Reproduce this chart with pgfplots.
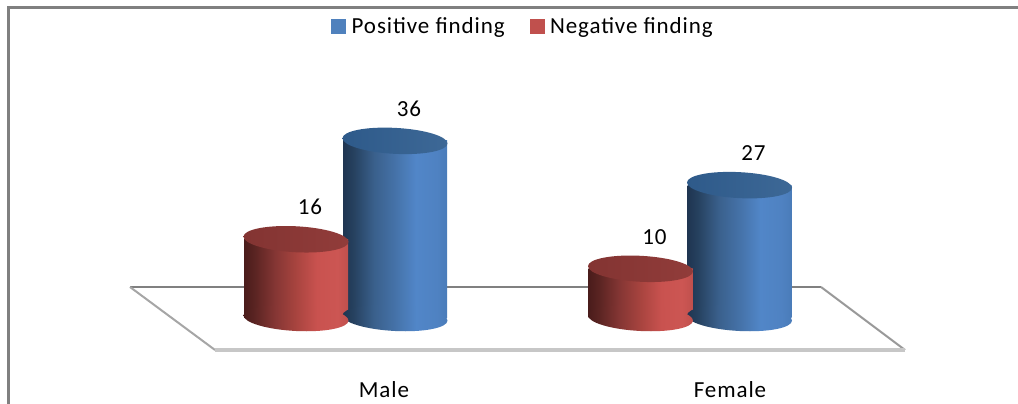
\documentclass[border=0pt]{standalone}
\usepackage{fontspec}
\setmainfont{Carlito}[LetterSpace=4]
\usepackage{pgfplots}
\pgfplotsset{compat=1.18}

\definecolor{bluelegend}{HTML}{4F81BD}
\definecolor{redlegend}{HTML}{C0504D}
\definecolor{ba}{HTML}{1F3551}\definecolor{bb}{HTML}{26415F}\definecolor{bc}{HTML}{3A608C}
\definecolor{bd}{HTML}{4572A8}\definecolor{be}{HTML}{5186C8}\definecolor{bf}{HTML}{4F82C2}\definecolor{bg}{HTML}{4A7CB9}
\definecolor{ra}{HTML}{4A1C1B}\definecolor{rb}{HTML}{5A2422}\definecolor{rc}{HTML}{853634}
\definecolor{rd}{HTML}{A8443F}\definecolor{re}{HTML}{C9524F}\definecolor{rf}{HTML}{CC5653}\definecolor{rg}{HTML}{C0504D}
\definecolor{btopa}{HTML}{2E5A8A}\definecolor{btopb}{HTML}{3D6896}
\definecolor{rtopa}{HTML}{833432}\definecolor{rtopb}{HTML}{913C3A}

% Side shadings of the two cylinder families
\pgfdeclarehorizontalshading{blueside}{100bp}{color(0bp)=(ba); color(25bp)=(ba); color(30bp)=(bb); color(40bp)=(bc); color(50bp)=(bd); color(60bp)=(be); color(70bp)=(bf); color(75bp)=(bg); color(100bp)=(bg)}
\pgfdeclarehorizontalshading{redside}{100bp}{color(0bp)=(ra); color(25bp)=(ra); color(30bp)=(rb); color(40bp)=(rc); color(50bp)=(rd); color(60bp)=(re); color(70bp)=(rf); color(75bp)=(rg); color(100bp)=(rg)}
\pgfdeclarehorizontalshading{bluecap}{100bp}{color(0bp)=(btopa); color(25bp)=(btopa); color(75bp)=(btopb); color(100bp)=(btopb)}
\pgfdeclarehorizontalshading{redcap}{100bp}{color(0bp)=(rtopa); color(25bp)=(rtopa); color(75bp)=(rtopb); color(100bp)=(rtopb)}

% Tilted elliptical ends of the cylinders
\newcommand{\cylend}{\pgfpathellipse{\pgfpointorigin}{\pgfqpoint{52.5pt}{-2.6pt}}{\pgfqpoint{0pt}{13pt}}}
\pgfdeclareplotmark{bluebase}{\cylend\pgfshadepath{blueside}{0}\pgfusepath{discard}}
\pgfdeclareplotmark{redbase}{\cylend\pgfshadepath{redside}{0}\pgfusepath{discard}}
\pgfdeclareplotmark{bluetop}{\cylend\pgfshadepath{bluecap}{0}\pgfusepath{discard}}
\pgfdeclareplotmark{redtop}{\cylend\pgfshadepath{redcap}{0}\pgfusepath{discard}}

\pgfplotsset{
  body/.style={ybar, bar width=104pt, bar shift=0pt, draw=none, shade, forget plot},
  cap/.style={only marks, forget plot, point meta=y,
    nodes near coords,
    nodes near coords style={anchor=center, xshift=14pt, yshift=32pt, text=black,
      /pgf/number format/assume math mode=true, font=\fontsize{23}{27}\selectfont}},
  swatch/.style={legend image code/.code={
    \fill[#1] (0pt,-7pt) rectangle (14pt,7pt);
    \path (18pt,0pt);}},
}

\begin{document}
\begin{tikzpicture}
\useasboundingbox (0,0) rectangle (1018pt,404pt);
\begin{axis}[
  at={(0,0)}, anchor=south west, scale only axis,
  width=1018pt, height=404pt,
  xmin=0, xmax=1018, ymin=-17.48, ymax=64.63,
  clip=false,
  axis line style={draw=none},
  ytick=\empty,
  xtick={384,730}, xticklabels={Male,Female},
  major tick length=0pt,
  xticklabel style={anchor=center, yshift=14pt, font=\fontsize{23}{27}\selectfont},
  legend style={at={(523pt,378pt)}, anchor=center, draw=none, fill=none,
    legend columns=2, font=\fontsize{23}{27}\selectfont,
    /tikz/every even column/.style={column sep=23pt},
    inner sep=0pt},
  legend cell align=left,
]
% Chart frame, open at the right and bottom
\addplot[forget plot, color=black!50, line width=3pt, line cap=rect] coordinates {(8.5,-17.48) (8.5,63.11) (1018,63.11)};

% Floor plane
\addplot[forget plot, fill=white, draw=none] coordinates {(130,6.30) (821,6.30) (905,-6.50) (215,-6.50)} -- cycle;
\addplot[forget plot, color=black!50, line width=2pt] coordinates {(130,6.30) (821,6.30)};
\addplot[forget plot, color=black!35, line width=2pt] coordinates {(130,6.30) (215,-6.50)};
\addplot[forget plot, color=black!40, line width=2pt] coordinates {(821,6.30) (905,-6.50)};
\addplot[forget plot, color=black!22, line width=3.4pt] coordinates {(215,-6.50) (905,-6.50)};

% Positive finding, back row
\addplot[only marks, forget plot, mark=bluebase] coordinates {(395,0) (739.5,0)};
\addplot[body, shading=blueside] coordinates {(395,36)};
\addplot[body, shading=blueside] coordinates {(739.5,27)};
\addplot[cap, mark=bluetop] coordinates {(395,36) (739.5,27)};

% Negative finding, front row
\addplot[only marks, forget plot, mark=redbase] coordinates {(296,0) (640.5,0)};
\addplot[body, shading=redside] coordinates {(296,16)};
\addplot[body, shading=redside] coordinates {(640.5,10)};
\addplot[cap, mark=redtop] coordinates {(296,16) (640.5,10)};

\addlegendimage{swatch={bluelegend}}
\addlegendentry{Positive finding}
\addlegendimage{swatch={redlegend}}
\addlegendentry{Negative finding}
\end{axis}
\end{tikzpicture}
\end{document}
